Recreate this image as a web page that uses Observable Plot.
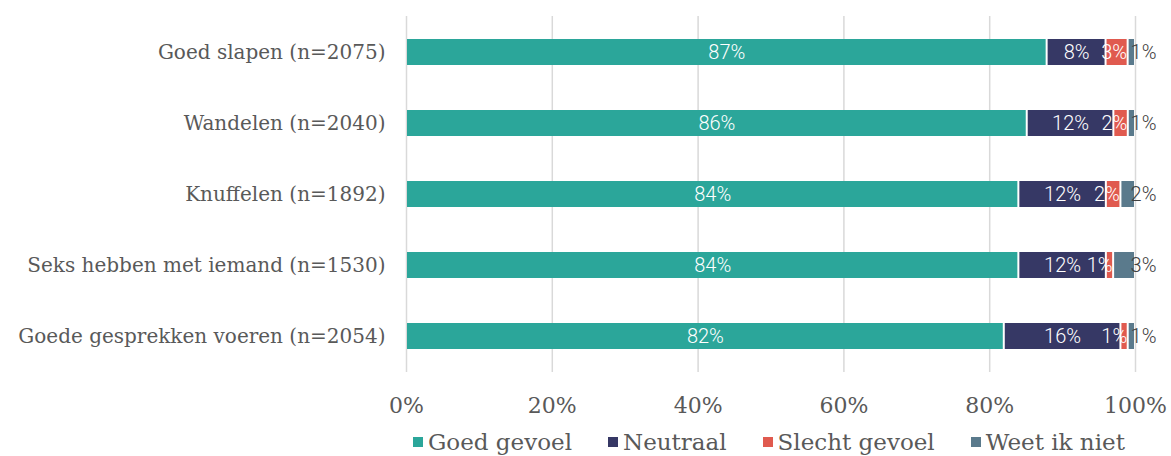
<!DOCTYPE html>
<html>
<head>
<meta charset="utf-8">
<script src="https://cdn.jsdelivr.net/npm/d3@7"></script>
<script src="https://cdn.jsdelivr.net/npm/@observablehq/plot@0.6"></script>
<style>
  html, body { margin: 0; padding: 0; background: #fff; }
  #chart { width: 1171px; height: 456px; position: relative; overflow: hidden; }
  #legend { position: absolute; left: 413px; top: 429px; display: flex; align-items: center;
    font-family: "DejaVu Serif", serif; font-size: 23px; color: #595959; white-space: nowrap; }
  #legend .item { display: flex; align-items: center; margin-right: 36px; }
  #legend .sw { width: 10px; height: 10px; margin-right: 5px; display: inline-block; }
</style>
</head>
<body>
<div id="chart"></div>
<script>
const categories = [
  "Goed slapen (n=2075)",
  "Wandelen (n=2040)",
  "Knuffelen (n=1892)",
  "Seks hebben met iemand (n=1530)",
  "Goede gesprekken voeren (n=2054)"
];
const seriesNames = ["Goed gevoel", "Neutraal", "Slecht gevoel", "Weet ik niet"];
const goedGevoel   = [87, 86, 84, 84, 82];
const neutraal     = [8, 12, 12, 12, 16];
const slechtGevoel = [3, 2, 2, 1, 1];
const weetIkNiet   = [1, 1, 2, 3, 1];
const colors = ["#2ba69a", "#363865", "#e05a4f", "#5a7a8c"];
const xTicks = [0, 0.2, 0.4, 0.6, 0.8, 1];

const seriesValues = [goedGevoel, neutraal, slechtGevoel, weetIkNiet];
const data = [];
seriesNames.forEach((s, si) => {
  categories.forEach((c, ci) => {
    data.push({cat: c, series: s, value: seriesValues[si][ci]});
  });
});

const stackOpts = {x: "value", y: "cat", z: "series", order: seriesNames, offset: "normalize"};
const textStyle = {fontFamily: "Roboto, sans-serif", fontSize: 20, fontWeight: 300};
const only = names => d => names.includes(d.series) ? d.value + "%" : "";

const chart = Plot.plot({
  width: 1171,
  height: 426,
  marginTop: 16,
  marginBottom: 54,
  marginLeft: 406,
  marginRight: 36,
  style: {fontFamily: "DejaVu Serif, serif", background: "#fff"},
  x: {domain: [0, 1], ticks: xTicks, tickFormat: d => Math.round(d * 100) + "%"},
  y: {domain: categories, paddingInner: 0.635, paddingOuter: 0.3175},
  color: {domain: seriesNames, range: colors},
  marks: [
    Plot.gridX(xTicks, {stroke: "#d9d9d9", strokeOpacity: 1, strokeWidth: 1.5}),
    Plot.barX(data, Plot.stackX({...stackOpts, fill: "series", insetLeft: 1, insetRight: 1})),
    Plot.text(data, Plot.stackX({
      ...stackOpts, ...textStyle,
      text: only(["Goed gevoel", "Neutraal"]),
      fill: "white"
    })),
    Plot.text(data, Plot.stackX2({
      ...stackOpts, ...textStyle,
      text: only(["Slecht gevoel"]),
      fill: "white",
      textAnchor: "end",
      dx: -1
    })),
    Plot.text(data, Plot.stackX2({
      ...stackOpts, ...textStyle,
      text: only(["Weet ik niet"]),
      fill: "#404040",
      dx: 8
    })),
    Plot.axisX({ticks: xTicks, tickFormat: d => Math.round(d * 100) + "%", tickSize: 0, tickPadding: 25,
      fontSize: 22, fill: "#595959", label: null}),
    Plot.axisY({tickSize: 0, tickPadding: 21, fontSize: 20, fill: "#595959", label: null})
  ]
});
const host = document.getElementById("chart");
host.appendChild(chart);

const legend = document.createElement("div");
legend.id = "legend";
seriesNames.forEach((s, i) => {
  const item = document.createElement("div");
  item.className = "item";
  const sw = document.createElement("span");
  sw.className = "sw";
  sw.style.background = colors[i];
  const t = document.createElement("span");
  t.textContent = s;
  item.appendChild(sw);
  item.appendChild(t);
  legend.appendChild(item);
});
host.appendChild(legend);
</script>
</body>
</html>
